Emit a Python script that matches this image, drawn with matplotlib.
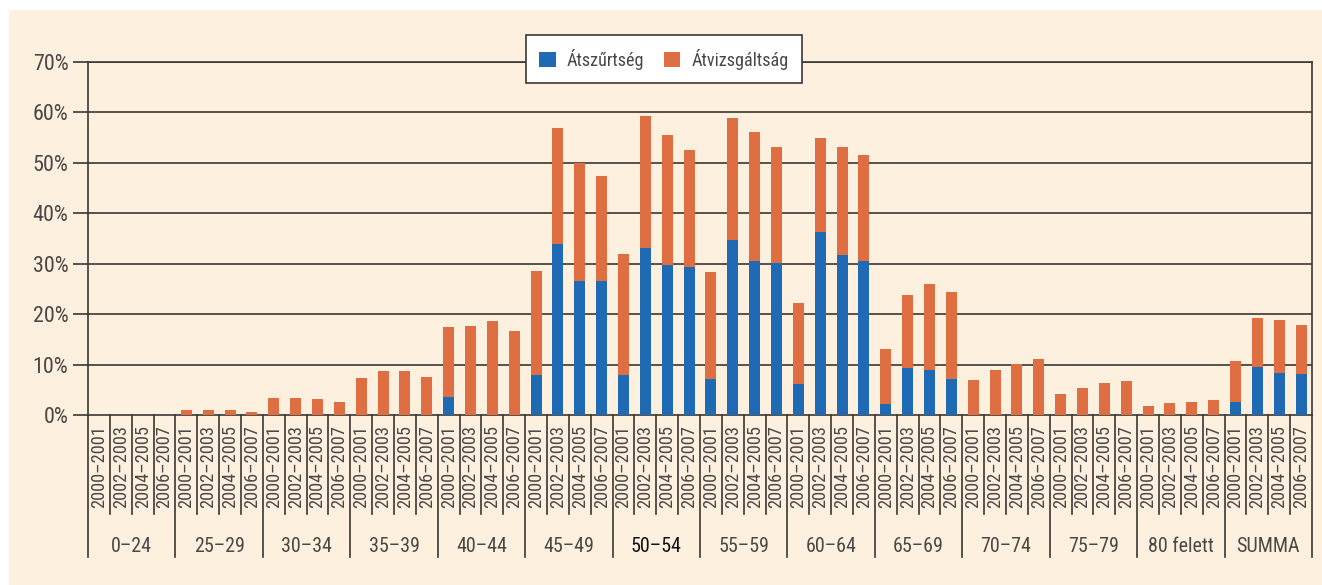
import matplotlib.pyplot as plt
from matplotlib import font_manager
from matplotlib.patches import Rectangle
from matplotlib.textpath import TextPath
from matplotlib.transforms import blended_transform_factory

# narrow font if there is one, DejaVu otherwise
installed = {f.name for f in font_manager.fontManager.ttflist}
FONT = next((n for n in ["Roboto Condensed", "Liberation Sans Narrow", "Open Sans Condensed",
                         "PT Sans Narrow", "Fira Sans Condensed", "DejaVu Sans"] if n in installed),
            "DejaVu Sans")
plt.rcParams['font.family'] = [FONT, 'DejaVu Sans']

# age groups and 2-year periods
groups = ["0–24", "25–29", "30–34", "35–39", "40–44", "45–49", "50–54",
          "55–59", "60–64", "65–69", "70–74", "75–79", "80 felett", "SUMMA"]
periods = ["2000–2001", "2002–2003", "2004–2005", "2006–2007"]

# total height of each bar (%), 4 per group
total = [
    0.0, 0.0, 0.0, 0.0,
    0.9, 0.9, 0.9, 0.65,
    3.4, 3.4, 3.2, 2.6,
    7.4, 8.8, 8.8, 7.6,
    17.5, 17.7, 18.7, 16.7,
    28.6, 56.9, 50.0, 47.4,
    32.0, 59.3, 55.6, 52.6,
    28.4, 58.9, 56.1, 53.2,
    22.3, 55.0, 53.2, 51.6,
    13.1, 23.8, 26.0, 24.4,
    7.0, 9.0, 10.2, 11.2,
    4.2, 5.4, 6.4, 6.8,
    1.85, 2.4, 2.6, 3.0,
    10.8, 19.3, 18.9, 17.9,
]
# blue part (Átszűrtség)
atszurtseg = [
    0, 0, 0, 0,
    0, 0, 0, 0,
    0, 0, 0, 0,
    0, 0, 0, 0,
    3.6, 0, 0, 0,
    8.0, 33.9, 26.6, 26.6,
    8.0, 33.2, 29.8, 29.4,
    7.2, 34.7, 30.6, 30.2,
    6.2, 36.3, 31.8, 30.6,
    2.2, 9.4, 9.0, 7.2,
    0, 0, 0, 0,
    0, 0, 0, 0,
    0, 0, 0, 0,
    2.6, 9.6, 8.4, 8.2,
]
atvizsgaltsag = [t - b for t, b in zip(total, atszurtseg)]

BLUE = "#1f6ab4"
ORANGE = "#e06e43"
CREAM = "#fdf0df"
DARK = "#3b3734"
TXT = "#4a4744"


def fit_size(text, width_px, max_pt):
    # font size (pt at 100 dpi) that makes text about width_px wide
    w = TextPath((0, 0), text, size=100, prop=font_manager.FontProperties(family=FONT)).get_extents().width
    return min(max_pt, width_px / w * 100 * 0.72)


fs_period = fit_size("2000–2001", 79, 15)
fs_tick = fit_size("70%", 34, 16)
fs_group = fit_size("50–54", 49, 17)
fs_legend = fit_size("Átszűrtség", 76, 16)

fig = plt.figure(figsize=(13.22, 5.85), dpi=100, facecolor=CREAM)
# thin white strips at the top and the left edge
fig.patches.append(Rectangle((0, 0), 9 / 1322, 1, transform=fig.transFigure,
                             facecolor="white", edgecolor="none"))
fig.patches.append(Rectangle((0, 1 - 10 / 585), 1, 10 / 585, transform=fig.transFigure,
                             facecolor="white", edgecolor="none"))

ax = fig.add_axes([88 / 1322, (585 - 415) / 585, 1224 / 1322, 353 / 585])
ax.set_facecolor(CREAM)

x = list(range(len(total)))
ax.bar(x, atszurtseg, width=0.5, color=BLUE, label="Átszűrtség", zorder=3)
ax.bar(x, atvizsgaltsag, width=0.5, bottom=atszurtseg, color=ORANGE, label="Átvizsgáltság", zorder=3)

ax.set_xlim(-0.5, len(total) - 0.5)
ax.set_ylim(0, 70)
ax.set_yticks(range(0, 71, 10))
ax.set_yticklabels([f"{v}%" for v in range(0, 71, 10)], fontsize=fs_tick, color=TXT)
ax.tick_params(axis="y", length=11, width=1.2, color=DARK, pad=3)
ax.set_xticks([])
for v in range(10, 71, 10):
    ax.axhline(v, color=DARK, lw=1.2, zorder=1)
for s in ["left", "right", "bottom", "top"]:
    ax.spines[s].set_color(DARK)
    ax.spines[s].set_linewidth(1.2)

# category axis: period labels and group separators drawn below the axes
tr = blended_transform_factory(ax.transData, ax.transAxes)
px = 1 / 353  # one pixel in axes fraction
for i in range(len(total) + 1):
    is_group = i % 4 == 0
    y_end = -(557 - 415) * px if is_group else -(514 - 415) * px
    ax.plot([i - 0.5, i - 0.5], [0, y_end], color=DARK, lw=1.2, transform=tr, clip_on=False)
for i in range(len(total)):
    ax.text(i, -(508 - 415) * px, periods[i % 4], rotation=90, ha="center", va="bottom",
            fontsize=fs_period, color=TXT, transform=tr)
for g, name in enumerate(groups):
    ax.text(g * 4 + 1.5, -(547 - 415) * px, name, ha="center", va="center", fontsize=fs_group,
            color="#111111" if name == "50–54" else TXT, transform=tr)

leg = ax.legend(loc="upper center", bbox_to_anchor=((664 - 88) / 1224, (415 - 35) / 353),
                ncol=2, frameon=True, fancybox=False, fontsize=fs_legend, handlelength=0.9,
                handleheight=0.9, handletextpad=0.6, columnspacing=1.1, borderpad=0.75,
                borderaxespad=0)
leg.get_frame().set_facecolor("white")
leg.get_frame().set_edgecolor(DARK)
leg.get_frame().set_linewidth(1.2)
leg.get_frame().set_alpha(1)
for t in leg.get_texts():
    t.set_color(TXT)

fig.savefig("out.png", dpi=100, facecolor=fig.get_facecolor())
